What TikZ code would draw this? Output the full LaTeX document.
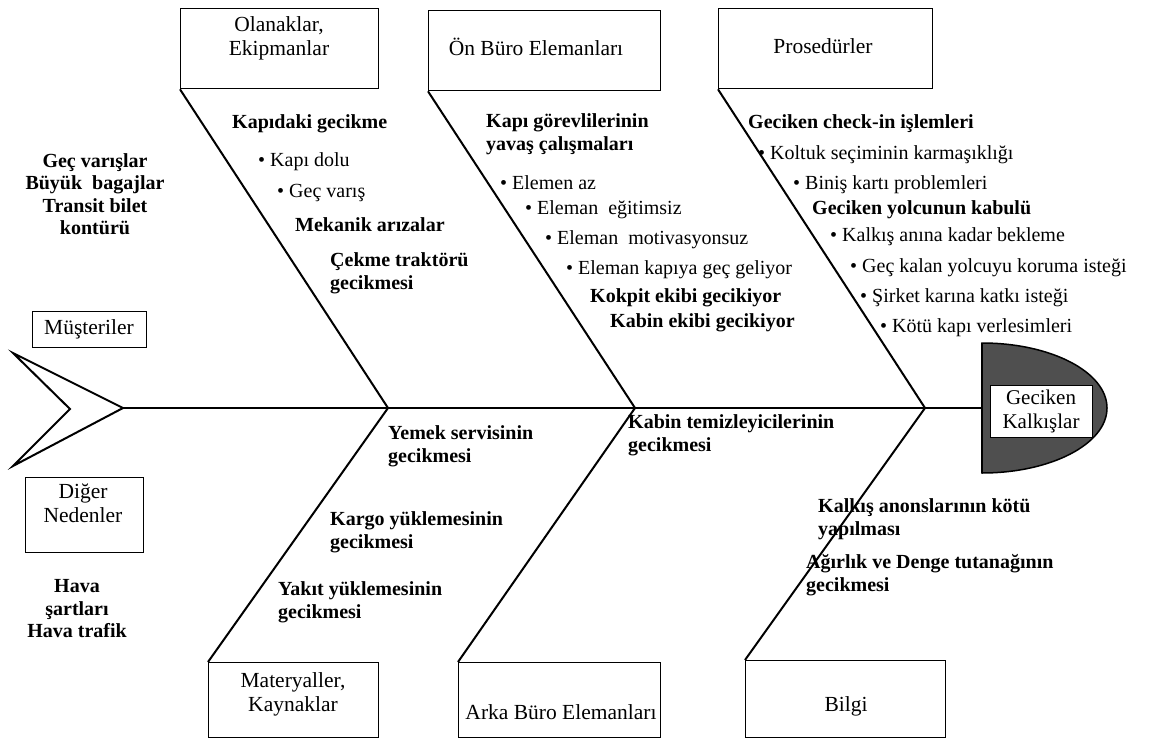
\documentclass[tikz,border=0pt]{standalone}
\usepackage{fontspec}
\setmainfont{Liberation Serif}
\begin{document}
\begin{tikzpicture}[x=1pt,y=-1pt,
  every node/.style={font=\fontsize{20}{23}\selectfont, inner sep=0pt},
  box/.style={draw, line width=1.3pt, rectangle, anchor=north west},
  lbl/.style={align=center, font=\fontsize{21.5}{24}\selectfont},
  cause/.style={anchor=west, align=left, font=\fontsize{20}{23}\selectfont\bfseries},
  item/.style={anchor=west, align=left},
  side/.style={align=center, font=\fontsize{20}{22.5}\selectfont\bfseries},
  bone/.style={line width=2pt},
  headfill/.style={fill=gray!62!black, draw=black, line width=1.5pt}]
\useasboundingbox (0,0) rectangle (1161,738);

% boxes (top)
\node[box, minimum width=198pt, minimum height=80pt] (olan) at (180,8) {};
\node[lbl] at (279,38) {Olanaklar,\\Ekipmanlar};
\node[box, minimum width=232pt, minimum height=80pt] (onburo) at (428,10) {};
\node[lbl] at (536,47) {Ön Büro Elemanları};
\node[box, minimum width=214pt, minimum height=80pt] (pros) at (718,8) {};
\node[lbl] at (823,46) {Prosedürler};
% boxes (bottom)
\node[box, minimum width=170pt, minimum height=75pt] (mat) at (208,662) {};
\node[lbl] at (293,694) {Materyaller,\\Kaynaklar};
\node[box, minimum width=202pt, minimum height=75pt] (arka) at (458,662) {};
\node[lbl] at (561,712) {Arka Büro Elemanları};
\node[box, minimum width=200pt, minimum height=77pt] (bilgi) at (745,660) {};
\node[lbl] at (846,706) {Bilgi};
% side boxes
\node[box, minimum width=114pt, minimum height=36pt] (must) at (32,311) {};
\node[lbl] at (89,329) {Müşteriler};
\node[box, minimum width=118pt, minimum height=75pt] (diger) at (25,477) {};
\node[lbl] at (83,503) {Diğer\\Nedenler};

% junctions on the spine
\coordinate (j1) at (388,408);
\coordinate (j2) at (635,408);
\coordinate (j3) at (925,408);
\coordinate (tail) at (123,408);
\coordinate (headw) at (982,408);

% tail chevron
\draw[line width=2pt, line join=miter] (13,353) -- (tail) -- (13,466) -- (70,409) -- cycle;

% head
\fill[headfill] (982,343) arc[start angle=90, end angle=-90, x radius=125pt, y radius=65pt] -- cycle;
\draw[line width=2pt] (982,343) -- (982,473);
\node[box, anchor=center, fill=white, line width=1pt, minimum width=102pt, minimum height=52pt, align=center, font=\fontsize{21}{24}\selectfont] (effect) at (1041,411) {Geciken\\Kalkışlar};

% spine and bones
\draw[bone] (tail) -- (headw);
\draw[bone] (olan.south west) -- (j1);
\draw[bone] (onburo.south west) -- (j2);
\draw[bone] (pros.south west) -- (j3);
\draw[bone] (mat.north west) -- (j1);
\draw[bone] (arka.north west) -- (j2);
\draw[bone] (bilgi.north west) -- (j3);

% customers / other causes
\node[side] at (95,194) {Geç varışlar\\Büyük\ \ bagajlar\\Transit bilet\\kontürü};
\node[side] at (77,609) {Hava\\şartları\\Hava trafik};

% bone 1
\node[cause] at (232,124) {Kapıdaki gecikme};
\node[item] at (258,162) {• Kapı dolu};
\node[item] at (277,193) {• Geç varış};
\node[cause] at (295,225) {Mekanik arızalar};
\node[cause] at (330,273) {Çekme traktörü\\gecikmesi};

% bone 2
\node[cause] at (486,134) {Kapı görevlilerinin\\yavaş çalışmaları};
\node[item] at (500,183) {• Elemen az};
\node[item] at (525,210) {• Eleman\ \ eğitimsiz};
\node[item] at (545,240) {• Eleman\ \ motivasyonsuz};
\node[item] at (566,270) {• Eleman kapıya geç geliyor};
\node[cause] at (590,298) {Kokpit ekibi gecikiyor};
\node[cause] at (610,323) {Kabin ekibi gecikiyor};

% bone 3
\node[cause] at (748,124) {Geciken check-in işlemleri};
\node[item] at (758,155) {• Koltuk seçiminin karmaşıklığı};
\node[item] at (793,185) {• Biniş kartı problemleri};
\node[cause] at (812,210) {Geciken yolcunun kabulü};
\node[item] at (830,237) {• Kalkış anına kadar bekleme};
\node[item] at (850,268) {• Geç kalan yolcuyu koruma isteği};
\node[item] at (860,298) {• Şirket karına katkı isteği};
\node[item] at (880,328) {• Kötü kapı verlesimleri};

% bottom causes
\node[cause] at (388,446) {Yemek servisinin\\gecikmesi};
\node[cause] at (330,532) {Kargo yüklemesinin\\gecikmesi};
\node[cause] at (278,602) {Yakıt yüklemesinin\\gecikmesi};
\node[cause] at (628,435) {Kabin temizleyicilerinin\\gecikmesi};
\node[cause] at (818,519) {Kalkış anonslarının kötü\\yapılması};
\node[cause] at (806,575) {Ağırlık ve Denge tutanağının\\gecikmesi};
\end{tikzpicture}
\end{document}
